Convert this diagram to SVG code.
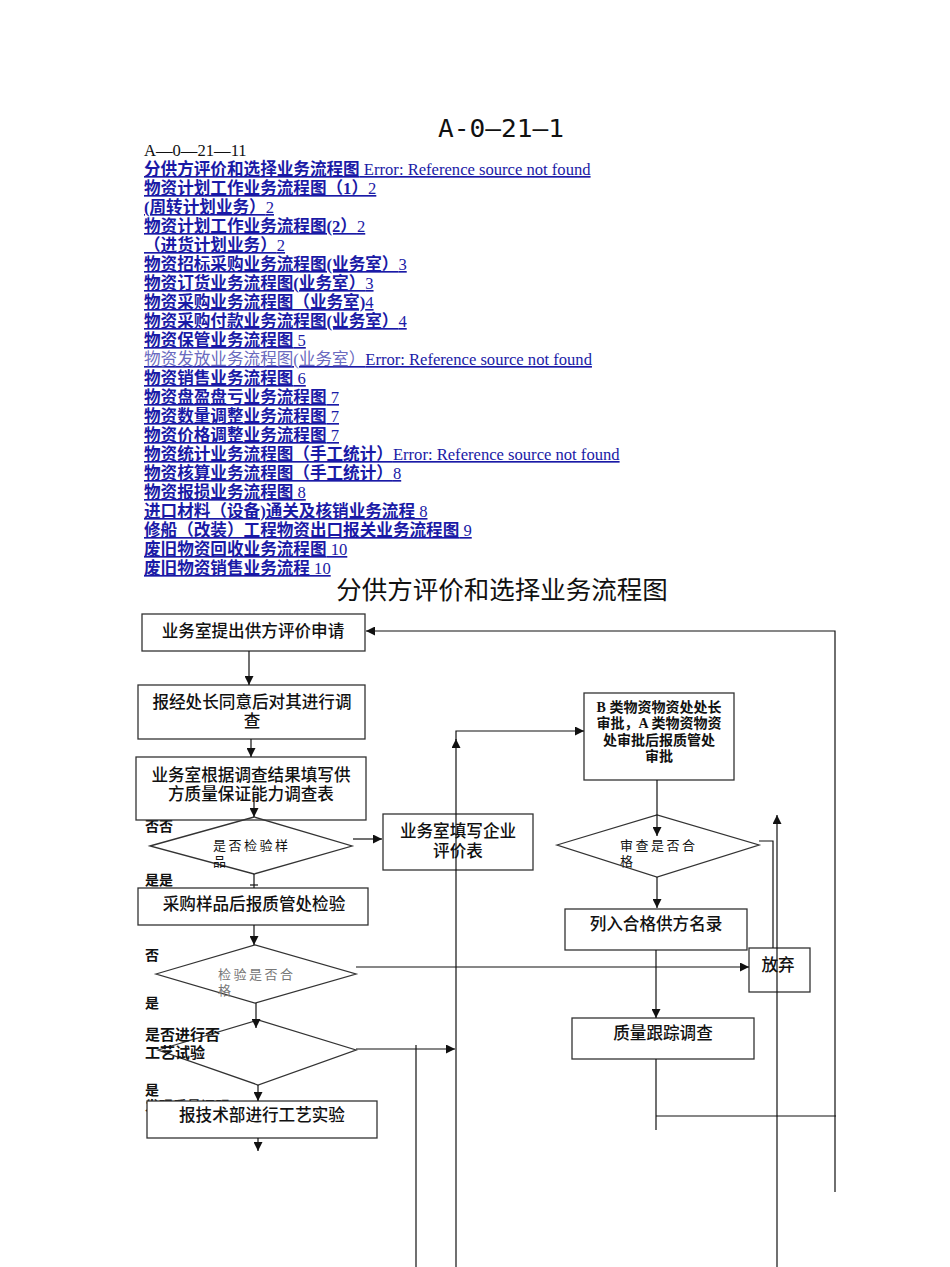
<svg xmlns="http://www.w3.org/2000/svg" width="950" height="1267" viewBox="0 0 950 1267">
<defs>
<style>
.toc{font-family:"Liberation Serif","Noto Sans CJK SC",serif;font-size:16.6px;fill:#1a1aa6;text-decoration:underline}
.toc .b{font-weight:bold}
.toc .n{font-weight:normal}
.lite{fill:#6a6ac0}
.node rect,.node polygon{fill:none;stroke:#333;stroke-width:1.3}
.t{font-family:"Noto Sans CJK SC","Liberation Sans",sans-serif;font-size:16.6px;font-weight:500;fill:#111;text-anchor:middle}
.d{font-family:"Noto Sans CJK SC","Liberation Sans",sans-serif;font-size:13px;fill:#111;letter-spacing:2.5px}
.lab{font-family:"Noto Sans CJK SC","Liberation Sans",sans-serif;font-size:14px;font-weight:bold;fill:#111}
.s{font-family:"Liberation Serif","Noto Sans CJK SC",serif;font-size:14px;font-weight:bold;fill:#111;text-anchor:middle}
#connectors line,#connectors polyline{fill:none;stroke:#111;stroke-width:1.2}
.a{marker-end:url(#arr)}
</style>
<marker id="arr" viewBox="0 0 10 10" refX="10" refY="5" markerWidth="9" markerHeight="9" markerUnits="userSpaceOnUse" orient="auto">
<path d="M0,0 L10,5 L0,10 Z" fill="#111"/>
</marker>
</defs>
<rect width="950" height="1267" fill="#fff"/>

<g id="header">
<text x="501" y="137" text-anchor="middle" font-family="DejaVu Sans Mono,monospace" font-size="25.5" fill="#111" textLength="126" lengthAdjust="spacingAndGlyphs">A-0—21—1</text>
<text x="144" y="156" font-family="Liberation Serif,serif" font-size="16.6" fill="#111">A—0—21—11</text>
</g>

<g id="toc" class="toc">
<text x="144" y="175"><tspan class="b">分供方评价和选择业务流程图</tspan><tspan class="n"> Error: Reference source not found</tspan></text>
<text x="144" y="194"><tspan class="b">物资计划工作业务流程图（1）</tspan><tspan class="n">2</tspan></text>
<text x="144" y="213"><tspan class="b">(周转计划业务）</tspan><tspan class="n">2</tspan></text>
<text x="144" y="232"><tspan class="b">物资计划工作业务流程图(2）</tspan><tspan class="n">2</tspan></text>
<text x="144" y="251"><tspan class="b">（进货计划业务）</tspan><tspan class="n">2</tspan></text>
<text x="144" y="270"><tspan class="b">物资招标采购业务流程图(业务室）</tspan><tspan class="n">3</tspan></text>
<text x="144" y="289"><tspan class="b">物资订货业务流程图(业务室）</tspan><tspan class="n">3</tspan></text>
<text x="144" y="308"><tspan class="b">物资采购业务流程图（业务室)</tspan><tspan class="n">4</tspan></text>
<text x="144" y="327"><tspan class="b">物资采购付款业务流程图(业务室）</tspan><tspan class="n">4</tspan></text>
<text x="144" y="346"><tspan class="b">物资保管业务流程图</tspan><tspan class="n"> 5</tspan></text>
<text x="144" y="365"><tspan class="lite">物资发放业务流程图(业务室）</tspan><tspan class="n">Error: Reference source not found</tspan></text>
<text x="144" y="384"><tspan class="b">物资销售业务流程图</tspan><tspan class="n"> 6</tspan></text>
<text x="144" y="403"><tspan class="b">物资盘盈盘亏业务流程图</tspan><tspan class="n"> 7</tspan></text>
<text x="144" y="422"><tspan class="b">物资数量调整业务流程图</tspan><tspan class="n"> 7</tspan></text>
<text x="144" y="441"><tspan class="b">物资价格调整业务流程图</tspan><tspan class="n"> 7</tspan></text>
<text x="144" y="460"><tspan class="b">物资统计业务流程图（手工统计）</tspan><tspan class="n">Error: Reference source not found</tspan></text>
<text x="144" y="479"><tspan class="b">物资核算业务流程图（手工统计）</tspan><tspan class="n">8</tspan></text>
<text x="144" y="498"><tspan class="b">物资报损业务流程图</tspan><tspan class="n"> 8</tspan></text>
<text x="144" y="517"><tspan class="b">进口材料（设备)通关及核销业务流程</tspan><tspan class="n"> 8</tspan></text>
<text x="144" y="536"><tspan class="b">修船（改装）工程物资出口报关业务流程图</tspan><tspan class="n"> 9</tspan></text>
<text x="144" y="555"><tspan class="b">废旧物资回收业务流程图</tspan><tspan class="n"> 10</tspan></text>
<text x="144" y="574"><tspan class="b">废旧物资销售业务流程</tspan><tspan class="n"> 10</tspan></text>
</g>

<g id="title">
<text x="502" y="599" text-anchor="middle" font-family="Noto Sans CJK SC,sans-serif" font-size="25.5" fill="#111">分供方评价和选择业务流程图</text>
</g>

<g id="labels">
<text class="lab" x="145" y="831">否否</text>
<text class="lab" x="145" y="885">是是</text>
<text class="lab" x="145" y="960">否</text>
<text class="lab" x="145" y="1008">是</text>
<text class="lab" x="145" y="1095">是</text>
<text class="lab" x="145" y="1111">发现质量问题</text>
</g>

<g id="n1" class="node"><rect x="142" y="614" width="223" height="37"/><text class="t" x="253" y="637">业务室提出供方评价申请</text></g>
<g id="n2" class="node"><rect x="138" y="685" width="227" height="54"/><text class="t" x="252" y="708">报经处长同意后对其进行调</text><text class="t" x="252" y="727">查</text></g>
<g id="n3" class="node"><rect x="136" y="757" width="230" height="63"/><text class="t" x="251" y="781">业务室根据调查结果填写供</text><text class="t" x="251" y="800">方质量保证能力调查表</text></g>
<g id="d1" class="node"><polygon points="150,846 254,817 352,846 254,874"/><text class="d" x="213" y="850">是否检验样</text><text class="d" x="213" y="866">品</text></g>
<g id="n4" class="node"><rect x="383" y="814" width="150" height="56"/><text class="t" x="458" y="837">业务室填写企业</text><text class="t" x="458" y="857">评价表</text></g>
<g id="n5" class="node"><rect x="138" y="888" width="230" height="37"/><text class="t" x="254" y="910">采购样品后报质管处检验</text></g>
<g id="d2" class="node"><polygon points="156,974 255,945 356,974 255,1003"/><text class="d" x="218" y="979" style="fill:#777">检验是否合</text><text class="d" x="218" y="995" style="fill:#777">格</text></g>
<g id="d3" class="node"><polygon points="158,1050 258,1020 356,1050 258,1085"/><text class="lab" x="145" y="1040" style="font-size:15px">是否进行否</text><text class="lab" x="145" y="1058" style="font-size:15px">工艺试验</text></g>
<g id="n6" class="node"><rect x="147" y="1101" width="230" height="37" style="fill:#fff"/><text class="t" x="262" y="1121">报技术部进行工艺实验</text></g>
<g id="n7" class="node"><rect x="584" y="693" width="150" height="87"/><text class="s" x="659" y="712">B 类物资物资处处长</text><text class="s" x="659" y="728">审批，A 类物资物资</text><text class="s" x="659" y="745">处审批后报质管处</text><text class="s" x="659" y="761">审批</text></g>
<g id="d4" class="node"><polygon points="557,845 657,815 759,845 657,877"/><text class="d" x="620" y="850">审查是否合</text><text class="d" x="620" y="866">格</text></g>
<g id="n8" class="node"><rect x="565" y="909" width="182" height="41"/><text class="t" x="656" y="930">列入合格供方名录</text></g>
<g id="n9" class="node"><rect x="572" y="1018" width="182" height="41"/><text class="t" x="663" y="1039">质量跟踪调查</text></g>
<g id="n10" class="node"><rect x="749" y="948" width="61" height="44"/><text class="t" x="778" y="971">放弃</text></g>

<g id="connectors">
<line class="a" x1="249" y1="651" x2="249" y2="685"/>
<polyline class="a" points="835,1192 835,631 366,631"/>
<line class="a" x1="251" y1="739" x2="251" y2="757"/>
<line class="a" x1="254" y1="797" x2="254" y2="817"/>
<line class="a" x1="353" y1="839" x2="382" y2="839"/>
<line x1="254" y1="874" x2="254" y2="888"/>
<line x1="250" y1="885" x2="258" y2="885"/>
<line class="a" x1="254" y1="925" x2="254" y2="945"/>
<line class="a" x1="356" y1="967" x2="749" y2="967"/>
<line class="a" x1="256" y1="1003" x2="256" y2="1028"/>
<line class="a" x1="356" y1="1049" x2="455" y2="1049"/>
<line class="a" x1="258" y1="1085" x2="258" y2="1101"/>
<line class="a" x1="258" y1="1138" x2="258" y2="1151"/>
<line x1="416" y1="1045" x2="416" y2="1267"/>
<line class="a" x1="456" y1="1267" x2="456" y2="739"/>
<polyline class="a" points="456,740 456,731 584,731"/>
<line class="a" x1="657" y1="780" x2="657" y2="836"/>
<polyline points="759,841 773,841 773,948"/>
<line class="a" x1="777" y1="1267" x2="777" y2="815"/>
<line class="a" x1="657" y1="877" x2="657" y2="908"/>
<line class="a" x1="656" y1="950" x2="656" y2="1018"/>
<line x1="656" y1="1059" x2="656" y2="1130"/>
<line x1="656" y1="1116" x2="836" y2="1116"/>
</g>
</svg>
